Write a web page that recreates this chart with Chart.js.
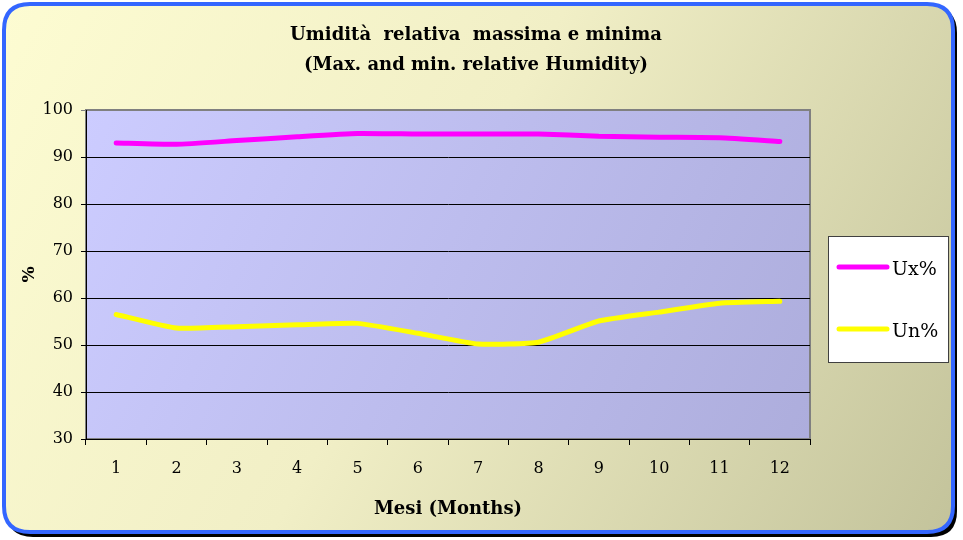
<!DOCTYPE html>
<html>
<head>
<meta charset="utf-8">
<script src="https://cdn.jsdelivr.net/npm/chart.js@4"></script>
<style>
  body { margin: 0; background: #fff; }
  #wrap { width: 963px; height: 540px; }
</style>
</head>
<body>
<div id="wrap"><canvas id="chart" width="963" height="540"></canvas></div>
<script>
const months = ['1', '2', '3', '4', '5', '6', '7', '8', '9', '10', '11', '12'];
const uxValues = [93.0, 92.7, 93.5, 94.3, 95.0, 94.9, 94.9, 94.9, 94.4, 94.2, 94.1, 93.3];
const unValues = [56.5, 53.6, 53.9, 54.3, 54.6, 52.5, 50.2, 50.6, 55.1, 57.0, 58.9, 59.3];
const yTicks = [30, 40, 50, 60, 70, 80, 90, 100];
const titleLines = ['Umidità  relativa  massima e minima', '(Max. and min. relative Humidity)'];

const serif = '"DejaVu Serif", serif';

function roundRect(ctx, x, y, w, h, r) {
  ctx.beginPath();
  ctx.moveTo(x + r, y);
  ctx.lineTo(x + w - r, y);
  ctx.quadraticCurveTo(x + w, y, x + w, y + r);
  ctx.lineTo(x + w, y + h - r);
  ctx.quadraticCurveTo(x + w, y + h, x + w - r, y + h);
  ctx.lineTo(x + r, y + h);
  ctx.quadraticCurveTo(x, y + h, x, y + h - r);
  ctx.lineTo(x, y + r);
  ctx.quadraticCurveTo(x, y, x + r, y);
  ctx.closePath();
}

// card background, plot fill, title and legend
const decor = {
  id: 'decor',
  beforeDraw(chart) {
    const ctx = chart.ctx;
    const a = chart.chartArea;
    ctx.save();
    // shadow
    roundRect(ctx, 7, 7, 950, 530, 26);
    ctx.fillStyle = '#000';
    ctx.fill();
    // card
    roundRect(ctx, 4, 4, 949, 528, 26);
    const g = ctx.createLinearGradient(0, 0, 963, 540);
    g.addColorStop(0, '#fdfcd2');
    g.addColorStop(0.45, '#f1efc6');
    g.addColorStop(1, '#c2c29a');
    ctx.fillStyle = g;
    ctx.fill();
    ctx.lineWidth = 4;
    ctx.strokeStyle = '#3366ff';
    ctx.stroke();
    // plot area
    const pg = ctx.createLinearGradient(a.left, a.top, a.right, a.bottom);
    pg.addColorStop(0, '#ccccff');
    pg.addColorStop(1, '#adaddc');
    ctx.fillStyle = pg;
    ctx.fillRect(a.left, a.top, a.right - a.left, a.bottom - a.top);
    ctx.strokeStyle = '#808080';
    ctx.lineWidth = 2;
    ctx.strokeRect(a.left, a.top, a.right - a.left, a.bottom - a.top);
    // title
    ctx.fillStyle = '#000';
    ctx.font = 'bold 18px ' + serif;
    ctx.textAlign = 'center';
    ctx.textBaseline = 'middle';
    ctx.fillText(titleLines[0], 476, 35);
    ctx.fillText(titleLines[1], 476, 65);
    ctx.restore();
  },
  afterDraw(chart) {
    const ctx = chart.ctx;
    ctx.save();
    ctx.fillStyle = '#fff';
    ctx.fillRect(828, 236, 120, 126);
    ctx.strokeStyle = '#404040';
    ctx.lineWidth = 1;
    ctx.strokeRect(828.5, 236.5, 120, 126);
    const ys = [267, 329];
    chart.data.datasets.forEach((ds, i) => {
      ctx.strokeStyle = ds.borderColor;
      ctx.lineWidth = 5;
      ctx.lineCap = 'round';
      ctx.beginPath();
      ctx.moveTo(839, ys[i]);
      ctx.lineTo(887, ys[i]);
      ctx.stroke();
      ctx.fillStyle = '#000';
      ctx.font = '19px ' + serif;
      ctx.textAlign = 'left';
      ctx.textBaseline = 'middle';
      ctx.fillText(ds.label, 892, ys[i] + 3);
    });
    ctx.restore();
  }
};

new Chart(document.getElementById('chart').getContext('2d'), {
  type: 'line',
  data: {
    labels: months,
    datasets: [{
      label: 'Ux%',
      data: uxValues,
      borderColor: '#ff00ff',
      borderWidth: 5,
      borderCapStyle: 'round',
      pointRadius: 0,
      tension: 0.15
    }, {
      label: 'Un%',
      data: unValues,
      borderColor: '#ffff00',
      borderWidth: 5,
      borderCapStyle: 'round',
      pointRadius: 0,
      tension: 0.15
    }]
  },
  options: {
    responsive: false,
    animation: false,
    layout: { padding: { left: 15, top: 110, right: 153, bottom: 20 } },
    plugins: { legend: { display: false }, tooltip: { enabled: false } },
    scales: {
      x: {
        offset: true,
        afterFit: s => { s.height = 81; },
        grid: { offset: true, drawOnChartArea: false, color: '#000', tickLength: 6 },
        border: { color: '#000', width: 1 },
        ticks: { color: '#000', font: { family: serif, size: 16 }, padding: 14, maxRotation: 0 },
        title: { display: true, text: 'Mesi (Months)', color: '#000', font: { family: serif, size: 18, weight: 'bold' }, padding: { top: 1, bottom: 0 } }
      },
      y: {
        min: 30,
        max: 100,
        afterFit: s => { s.width = 71; },
        afterBuildTicks: s => { s.ticks = yTicks.map(v => ({ value: v })); },
        grid: { color: c => (c.tick && c.tick.value === 100 ? '#808080' : '#000'), tickLength: 5 },
        border: { color: '#000', width: 1 },
        ticks: { color: '#000', font: { family: serif, size: 16 }, padding: 8 },
        title: { display: true, text: '%', color: '#000', font: { family: serif, size: 17, weight: 'bold' }, padding: { top: 4, bottom: 0 } }
      }
    }
  },
  plugins: [decor]
});
</script>
</body>
</html>
